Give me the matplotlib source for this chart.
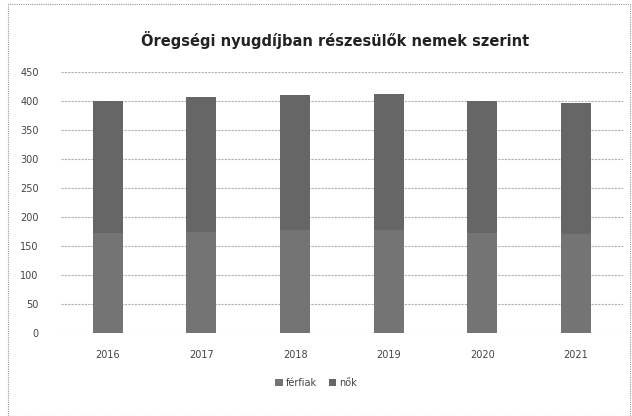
import numpy as np
import matplotlib
matplotlib.use("Agg")
import matplotlib.pyplot as plt
from matplotlib.patches import Rectangle

# data (ezer fő)
years = ["2016", "2017", "2018", "2019", "2020", "2021"]
ferfiak = [172, 175, 177, 178, 172, 170]
nok = [228, 232, 234, 235, 228, 227]

fig = plt.figure(figsize=(6.32, 4.16), dpi=100)
fig.patch.set_facecolor("white")
fig.patches.append(Rectangle((0.013, 0.0), 0.984, 0.99, transform=fig.transFigure,
                             fill=False, edgecolor="#9a9a9a", linewidth=0.8, linestyle=(0, (1, 1))))

ax = fig.add_axes([0.0965, 0.1995, 0.889, 0.627])
x = np.arange(len(years))
ax.bar(x, ferfiak, width=0.32, color="#747474", label="férfiak", zorder=3)
ax.bar(x, nok, width=0.32, bottom=ferfiak, color="#666666", label="nők", zorder=3)

ax.set_ylim(0, 450)
ax.set_xlim(-0.5, len(years) - 0.5)
ax.set_yticks(np.arange(0, 451, 50))
ax.set_xticks(x)
ax.set_xticklabels(years)
ax.tick_params(length=0, labelsize=7, colors="#444444")
ax.tick_params(axis="x", pad=12)
ax.tick_params(axis="y", pad=16)
ax.grid(axis="y", color="#b0b0b0", linewidth=0.8, linestyle=(0, (2, 1)), zorder=0)
for s in ["top", "right", "left", "bottom"]:
    ax.spines[s].set_visible(False)

fig.text(0.53, 0.905, "Öregségi nyugdíjban részesülők nemek szerint",
         ha="center", va="center", fontsize=10.5, fontweight="bold", color="#222222")

fig.legend(loc="center", bbox_to_anchor=(0.5, 0.08), ncol=2, frameon=False,
           fontsize=7, handlelength=0.8, handleheight=0.8, columnspacing=1.2,
           handletextpad=0.3, labelcolor="#444444")

fig.savefig("out.png", dpi=100)
